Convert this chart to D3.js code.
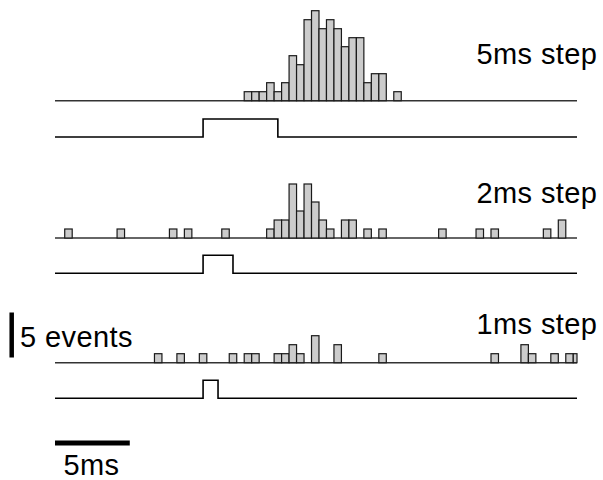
<!DOCTYPE html>
<html>
<head>
<meta charset="utf-8">
<script src="https://cdn.jsdelivr.net/npm/d3@7"></script>
<style>
  html, body { margin: 0; padding: 0; background: #fff; }
  svg { display: block; }
  text { font-family: "Liberation Sans", Arial, Helvetica, sans-serif; fill: #000; letter-spacing: 0.4px; }
</style>
</head>
<body>
<svg id="chart" width="603" height="480"></svg>
<script>
// ---- data (time in ms relative to step onset; bins are 0.5 ms wide) ----
const binWidth = 0.5;
const timeDomain = [-9.9, 25];

const panelLabels = ["5ms step", "2ms step", "1ms step"];
const stepDurations = [5, 2, 1];

const bins5ms = [2.75, 3.25, 3.75, 4.25, 4.75, 5.25, 5.75, 6.25, 6.75, 7.25, 7.75, 8.25, 8.75, 9.25, 9.75, 10.25, 10.75, 11.25, 11.75, 12.75];
const counts5ms = [1, 1, 1, 2, 1, 2, 5, 4, 9, 10, 8, 9, 8, 6, 7, 7, 2, 3, 3, 1];

const bins2ms = [-9.25, -5.75, -2.25, -1.25, 1.25, 4.25, 4.75, 5.25, 5.75, 6.25, 6.75, 7.25, 7.75, 8.25, 9.25, 9.75, 10.75, 11.75, 15.75, 18.25, 19.25, 22.75, 23.75];
const counts2ms = [1, 1, 1, 1, 1, 1, 2, 2, 6, 3, 6, 4, 2, 1, 2, 2, 1, 1, 1, 1, 1, 1, 2];

const bins1ms = [-3.25, -1.75, -0.25, 1.75, 2.75, 3.25, 4.75, 5.25, 5.75, 6.25, 7.25, 8.75, 11.75, 19.25, 21.25, 21.75, 23.25, 24.25, 24.75];
const counts1ms = [1, 1, 1, 1, 1, 1, 1, 1, 2, 1, 3, 2, 1, 1, 2, 1, 1, 1, 1];

const scaleBarMs = 5;
const scaleBarEvents = 5;
const scaleBarMsLabel = "5ms";
const scaleBarEventsLabel = "5 events";

// ---- layout ----
const svg = d3.select("#chart");
const x = d3.scaleLinear().domain(timeDomain).range([55, 577]);
const yCount = d3.scaleLinear().domain([0, 10]).range([0, 90]);   // px height per count
const yStep = d3.scaleLinear().domain([0, 1]).range([0, 18]);

const histBaselines = [100.7, 238, 362.7];
const traceBaselines = [137, 273.3, 398.3];
const labelPos = [[476.5, 63.5], [476.5, 203], [476.5, 333.5]];

const histData = [
  d3.zip(bins5ms, counts5ms),
  d3.zip(bins2ms, counts2ms),
  d3.zip(bins1ms, counts1ms)
];

histData.forEach((data, p) => {
  const base = histBaselines[p];
  const g = svg.append("g");
  g.append("line")
    .attr("x1", x(timeDomain[0])).attr("x2", x(timeDomain[1]))
    .attr("y1", base).attr("y2", base)
    .attr("stroke", "#333").attr("stroke-width", 1.4);
  g.selectAll("rect").data(data).enter().append("rect")
    .attr("x", d => x(d[0]))
    .attr("width", d => x(Math.min(d[0] + binWidth, timeDomain[1])) - x(d[0]))
    .attr("y", d => base - yCount(d[1]))
    .attr("height", d => yCount(d[1]))
    .attr("fill", "#cccccc")
    .attr("stroke", "#1a1a1a")
    .attr("stroke-width", 1.2);

  const dur = stepDurations[p];
  const tb = traceBaselines[p];
  const pts = [[timeDomain[0], 0], [0, 0], [0, 1], [dur, 1], [dur, 0], [timeDomain[1], 0]];
  const line = d3.line().x(d => x(d[0])).y(d => tb - yStep(d[1]));
  svg.append("path").attr("d", line(pts))
    .attr("fill", "none").attr("stroke", "#000").attr("stroke-width", 1.6);

  svg.append("text")
    .attr("x", labelPos[p][0]).attr("y", labelPos[p][1])
    .attr("font-size", 29)
    .text(panelLabels[p]);
});

// ---- scale bars ----
svg.append("line")
  .attr("x1", 11.7).attr("x2", 11.7)
  .attr("y1", 357.5).attr("y2", 357.5 - yCount(scaleBarEvents))
  .attr("stroke", "#000").attr("stroke-width", 4.5);
svg.append("text")
  .attr("x", 20).attr("y", 346.7)
  .attr("font-size", 29)
  .text(scaleBarEventsLabel);

svg.append("line")
  .attr("x1", x(timeDomain[0])).attr("x2", x(timeDomain[0] + scaleBarMs))
  .attr("y1", 443).attr("y2", 443)
  .attr("stroke", "#000").attr("stroke-width", 5);
svg.append("text")
  .attr("x", (x(timeDomain[0]) + x(timeDomain[0] + scaleBarMs)) / 2 - 1)
  .attr("y", 475)
  .attr("font-size", 29)
  .attr("text-anchor", "middle")
  .text(scaleBarMsLabel);
</script>
</body>
</html>
